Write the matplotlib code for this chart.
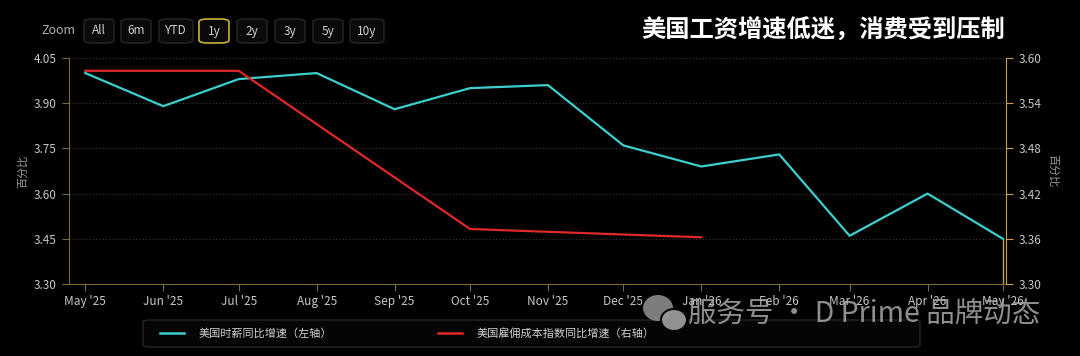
import matplotlib
matplotlib.use("Agg")
from matplotlib import pyplot as plt
from matplotlib.patches import FancyBboxPatch, Ellipse
from matplotlib.lines import Line2D
import matplotlib.dates as mdates
import pandas as pd

plt.rcParams['font.family'] = ['Noto Sans CJK SC', 'DejaVu Sans']

months = ["2025-05-01", "2025-06-01", "2025-07-01", "2025-08-01", "2025-09-01", "2025-10-01",
          "2025-11-01", "2025-12-01", "2026-01-01", "2026-02-01", "2026-03-01", "2026-04-01",
          "2026-05-01"]
wage = [4.00, 3.89, 3.98, 4.00, 3.88, 3.95, 3.96, 3.76, 3.69, 3.73, 3.46, 3.60, 3.45]
eci_months = ["2025-05-01", "2025-07-01", "2025-10-01", "2026-01-01"]
eci = [3.583, 3.583, 3.373, 3.362]

left_ticks = [3.30, 3.45, 3.60, 3.75, 3.90, 4.05]
right_ticks = [3.30, 3.36, 3.42, 3.48, 3.54, 3.60]
buttons = ["All", "6m", "YTD", "1y", "2y", "3y", "5y", "10y"]

bg = "#000000"
cyan = "#3ccfcf"
red = "#e02828"
axis_l = "#7a6a3a"
axis_r = "#c9a050"
txt = "#c8c8c8"

dates = pd.to_datetime(months)
eci_dates = pd.to_datetime(eci_months)

fig = plt.figure(figsize=(10.8, 3.56), dpi=100, facecolor=bg)
ax = fig.add_axes([69 / 1080, 1 - 284 / 356, (1006 - 69) / 1080, (284 - 58) / 356])
ax.set_facecolor(bg)
ax2 = ax.twinx()

ax.plot(dates, wage, color=cyan, lw=1.6, zorder=3)
ax2.plot(eci_dates, eci, color=red, lw=1.6, zorder=3)
# hover crosshair at the last point
ax.plot([dates[-1], dates[-1]], [left_ticks[0], wage[-1]], color=axis_r, lw=1.0, zorder=2)

ax.set_xlim(dates[0] - pd.Timedelta(days=6.5), dates[-1] + pd.Timedelta(days=1.2))
ax.set_ylim(3.30, 4.05)
ax2.set_ylim(3.30, 3.60)
ax.set_yticks(left_ticks)
ax.set_yticklabels([f"{v:.2f}" for v in left_ticks])
ax2.set_yticks(right_ticks)
ax2.set_yticklabels([f"{v:.2f}" for v in right_ticks])
ax.set_xticks(dates)
ax.xaxis.set_major_formatter(mdates.DateFormatter("%b '%y"))

ax.grid(axis="y", color="#3a3a3a", linestyle=(0, (1, 2)), lw=0.8)
for s in ["top", "right"]:
    ax.spines[s].set_visible(False)
for s in ["top", "left", "bottom"]:
    ax2.spines[s].set_visible(False)
ax.spines["left"].set_color(axis_l)
ax.spines["bottom"].set_color(axis_l)
ax2.spines["right"].set_color(axis_r)
ax.tick_params(axis="y", colors=axis_l, labelcolor=txt, labelsize=8.5, length=5, pad=4)
ax.tick_params(axis="x", colors=axis_l, labelcolor=txt, labelsize=8.5, length=5, pad=3)
ax2.tick_params(axis="y", colors=axis_r, labelcolor=txt, labelsize=8.5, length=5, pad=4)

ax.set_ylabel("百分比", color="#9a9a9a", fontsize=8, labelpad=4)
ax2.set_ylabel("百分比", color="#9a9a9a", fontsize=8, rotation=270, labelpad=12)

# title
fig.text(1005 / 1080, 1 - 31 / 356, "美国工资增速低迷，消费受到压制", color="white",
         fontsize=17.5, fontweight="bold", ha="right", va="center")

# zoom buttons
fig.text(58 / 1080, 1 - 31 / 356, "Zoom", color="#b0b0b0", fontsize=9, ha="center", va="center")
bx = [99, 136, 176, 214, 252, 290, 328, 367]
bw = [30, 30, 34, 30, 30, 30, 30, 34]
for name, cx, w in zip(buttons, bx, bw):
    sel = name == "1y"
    fig.patches.append(FancyBboxPatch(((cx - w / 2) / 1080, 1 - 43 / 356), w / 1080, 24 / 356,
                                      boxstyle="round,pad=0,rounding_size=0.008",
                                      transform=fig.transFigure, facecolor="#0a0a0a",
                                      edgecolor="#c8b436" if sel else "#222222", lw=1.2))
    fig.text(cx / 1080, 1 - 31 / 356, name, color="#d0d0d0", fontsize=8.5, ha="center", va="center")

# legend box
fig.patches.append(FancyBboxPatch((143 / 1080, 1 - 347 / 356), (920 - 143) / 1080, 27 / 356,
                                  boxstyle="round,pad=0,rounding_size=0.006",
                                  transform=fig.transFigure, facecolor="#050505",
                                  edgecolor="#262626", lw=1.0))
handles = [Line2D([], [], color=cyan, lw=1.8), Line2D([], [], color=red, lw=1.8)]
fig.legend(handles, ["美国时薪同比增速（左轴）", "美国雇佣成本指数同比增速（右轴）"],
           loc="center left", bbox_to_anchor=(150 / 1080, 1 - 333 / 356), ncol=2,
           frameon=False, fontsize=8, labelcolor="#d0d0d0", handlelength=2.2,
           columnspacing=9.5, handletextpad=1.3)

# watermark (wechat logo + text)
fig.patches.append(Ellipse((658 / 1080, 1 - 308 / 356), 30 / 1080, 26 / 356,
                           transform=fig.transFigure, facecolor="#8c8c8c", alpha=0.9))
fig.patches.append(Ellipse((674 / 1080, 1 - 320 / 356), 26 / 1080, 22 / 356,
                           transform=fig.transFigure, facecolor="#9a9a9a", edgecolor=bg,
                           lw=1.5, alpha=0.95))
fig.text(688 / 1080, 1 - 315 / 356, "服务号 · D Prime 品牌动态", color="#a8a8a8", alpha=0.85,
         fontsize=20.5, ha="left", va="center")

fig.savefig("out.png", dpi=100, facecolor=bg)
